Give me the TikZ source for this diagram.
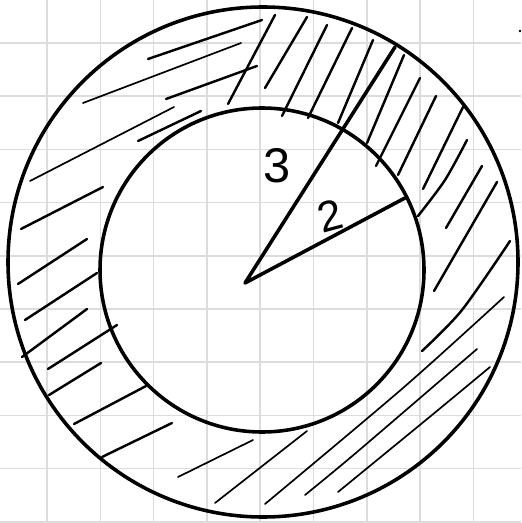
\documentclass[tikz,border=0pt]{standalone}
\usepackage{fontspec}
\newfontfamily\handfont{Liberation Sans}
\usepackage{tikz}
\definecolor{GridGray}{RGB}{220,220,220}

\begin{document}
\begin{tikzpicture}[x=0.01875cm, y=-0.01875cm,
    grd/.style={draw=GridGray, line width=0.8pt},
    ring/.style={draw=black, line width=1.9pt},
    rad/.style={draw=black, line width=1.9pt, line cap=round, line join=round},
    hatch/.style={draw=black, line width=1.3pt, line cap=round},
    hatchthin/.style={draw=black, line width=0.9pt, line cap=round},
    lbl/.style={inner sep=0pt, font=\handfont\fontsize{26}{26}\selectfont}
  ]
  \useasboundingbox (0,0) rectangle (521,523);

  % squared paper
  \foreach \k in {0,...,8}
    \draw[grd] (47+53.3*\k,0) -- (47+53.3*\k,523);
  \foreach \k in {0,...,9}
    \draw[grd] (0,43+53.2*\k) -- (521,43+53.2*\k);

  % hatching, left part
  \foreach \a/\b in {{(148,59)}/{(262,20)}, {(166,99)}/{(257,66)},
                     {(138,141)}/{(201,111)}, {(21,229)}/{(103,187)},
                     {(228,104)}/{(275,15)}, {(18,284)}/{(87,239)},
                     {(25,320)}/{(97,273)}, {(22,357)}/{(87,309)},
                     {(48,369)}/{(117,325)}, {(49,395)}/{(101,363)},
                     {(74,424)}/{(146,386)}, {(102,457)}/{(172,423)}}
    \draw[hatch] \a -- \b;
  \foreach \a/\b in {{(83,103)}/{(241,43)}, {(30,181)}/{(174,107)},
                     {(178,477)}/{(253,440)}, {(215,503)}/{(307,431)}}
    \draw[hatchthin] \a -- \b;

  % hatching, right part
  \foreach \a/\b in {{(265,88)}/{(307,17)}, {(282,116)}/{(327,25)},
                     {(308,118)}/{(352,28)}, {(338,123)}/{(373,40)},
                     {(367,143)}/{(404,55)}, {(376,166)}/{(420,78)},
                     {(398,175)}/{(436,96)}, {(423,189)}/{(463,107)},
                     {(446,228)}/{(482,166)}, {(434,291)}/{(497,182)}}
    \draw[hatch] \a -- \b;
  \draw[hatch] plot[smooth] coordinates {(418,216) (445,180) (467,140)};
  \draw[hatch] plot[smooth] coordinates {(422,351) (462,310) (510,241)};
  \draw[hatchthin] plot[smooth] coordinates {(265,504) (403,388) (504,297)};
  \draw[hatchthin] plot[smooth] coordinates {(305,495) (357,452) (477,349)};
  \draw[hatchthin] plot[smooth] coordinates {(338,492) (432,415) (490,367)};
  \fill (520,31) circle[radius=1.3];

  % the two circles
  \draw[ring] (263,262) circle[radius=255];
  \draw[ring] (262,270) circle[radius=162];

  % radii
  \coordinate (ctr) at (245,283);
  \coordinate (outer) at (395,47);
  \coordinate (inner) at (405,198);
  \draw[rad] (outer) -- (ctr) -- (inner);
  \node[lbl] (lthree) at (277,166) {3};
  \node[lbl, font=\handfont\fontsize{23}{23}\selectfont, rotate=15]
        (ltwo) at (330,216) {2};
\end{tikzpicture}
\end{document}
